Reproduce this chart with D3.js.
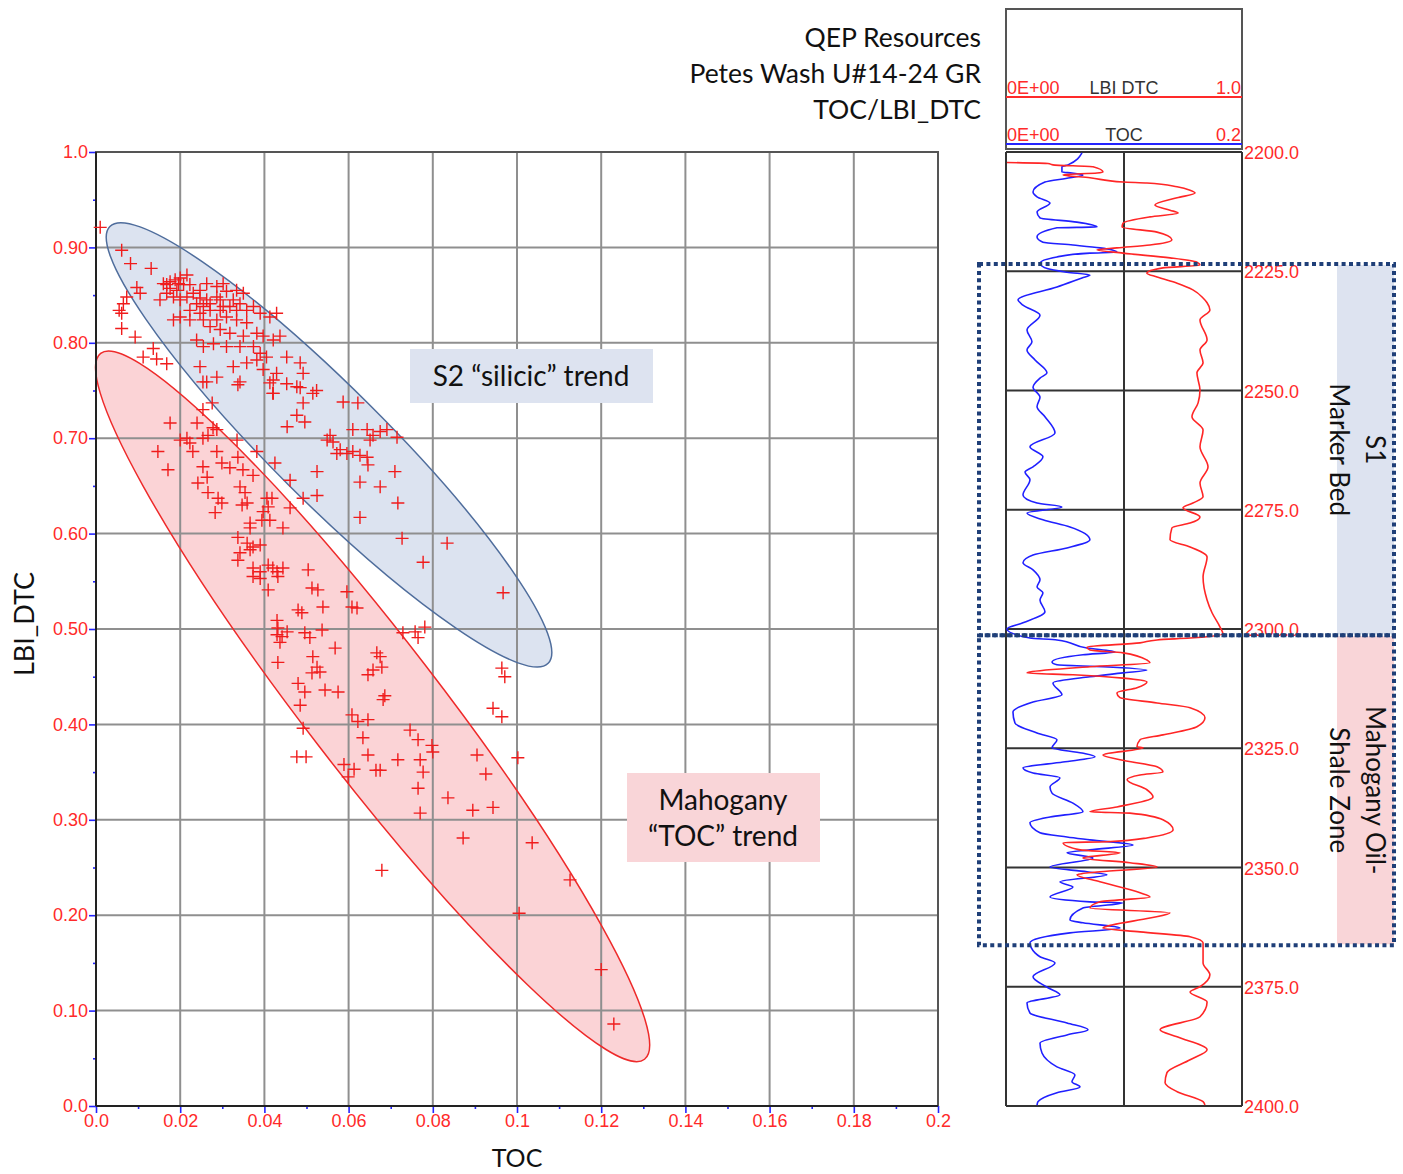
<!DOCTYPE html>
<html>
<head>
<meta charset="UTF-8">
<script src="https://d3js.org/d3.v7.min.js"></script>
<style>
  body { margin: 0; background: #fff; }
  svg text { font-family: 'Liberation Sans Narrow', 'Liberation Sans', Arial, sans-serif; }
  svg text.big { font-family: Lato, 'Open Sans', sans-serif; fill: #111; }
</style>
</head>
<body>
<script>
// ---- crossplot data (TOC, LBI_DTC) ----
var tocTicks = [0, 0.02, 0.04, 0.06, 0.08, 0.1, 0.12, 0.14, 0.16, 0.18, 0.2];
var tocTickLabels = ["0.0", "0.02", "0.04", "0.06", "0.08", "0.1", "0.12", "0.14", "0.16", "0.18", "0.2"];
var lbiTicks = [0, 0.1, 0.2, 0.3, 0.4, 0.5, 0.6, 0.7, 0.8, 0.9, 1.0];
var lbiTickLabels = ["0.0", "0.10", "0.20", "0.30", "0.40", "0.50", "0.60", "0.70", "0.80", "0.90", "1.0"];

// upper cluster (silicic trend)
var silicicPoints = [
  [0.0010,0.921],[0.0061,0.897],[0.0082,0.883],[0.0131,0.878],[0.0097,0.858],[0.0105,0.852],
  [0.0073,0.848],[0.0065,0.841],[0.0055,0.834],[0.0061,0.831],[0.0061,0.815],[0.0093,0.806],
  [0.0136,0.794],[0.0144,0.783],[0.0168,0.778],[0.0112,0.785],
  [0.0160,0.862],[0.0176,0.864],[0.0188,0.866],[0.0200,0.868],[0.0216,0.871],[0.0176,0.857],
  [0.0192,0.855],[0.0208,0.861],[0.0223,0.861],[0.0168,0.852],[0.0152,0.845],[0.0184,0.848],
  [0.0200,0.845],[0.0216,0.848],[0.0231,0.852],[0.0247,0.855],[0.0263,0.862],[0.0287,0.859],
  [0.0302,0.862],[0.0310,0.854],[0.0334,0.855],[0.0350,0.852],[0.0326,0.845],[0.0295,0.845],
  [0.0263,0.845],[0.0239,0.841],[0.0223,0.834],[0.0247,0.831],[0.0271,0.834],[0.0295,0.834],
  [0.0318,0.838],[0.0342,0.841],[0.0358,0.834],[0.0374,0.838],[0.0390,0.831],[0.0413,0.827],
  [0.0429,0.831],[0.0200,0.827],[0.0184,0.824],[0.0223,0.824],[0.0255,0.824],[0.0287,0.824],
  [0.0310,0.827],[0.0334,0.824],[0.0358,0.821],[0.0271,0.817],[0.0295,0.814],[0.0318,0.810],
  [0.0350,0.807],[0.0382,0.810],[0.0397,0.807],[0.0421,0.803],[0.0437,0.807],[0.0239,0.803],
  [0.0255,0.796],[0.0279,0.799],[0.0310,0.796],[0.0342,0.796],[0.0374,0.796],[0.0390,0.789],
  [0.0405,0.785],[0.0382,0.782],[0.0453,0.785],[0.0485,0.779],[0.0492,0.768],[0.0358,0.779],
  [0.0326,0.775],[0.0247,0.775],[0.0397,0.772],[0.0429,0.768],[0.0287,0.764],[0.0263,0.759],
  [0.0342,0.759],[0.0421,0.761],[0.0453,0.757],[0.0477,0.754],[0.0524,0.750],[0.0421,0.747],
  [0.0168,0.861],[0.0196,0.862],[0.0247,0.847],[0.0271,0.841],[0.0287,0.848],[0.0302,0.838],
  [0.0334,0.834],[0.0255,0.838],
  [0.0254,0.759],[0.0337,0.756],[0.0413,0.758],[0.0420,0.747],[0.0485,0.753],[0.0515,0.747],
  [0.0492,0.737],[0.0587,0.738],[0.0622,0.737],[0.0477,0.724],[0.0496,0.717],[0.0454,0.712],
  [0.0556,0.703],[0.0563,0.696],[0.0549,0.698],[0.0610,0.709],[0.0644,0.709],[0.0658,0.703],
  [0.0675,0.707],[0.0691,0.709],[0.0715,0.701],[0.0651,0.698],[0.0580,0.688],[0.0596,0.684],
  [0.0610,0.686],[0.0627,0.682],[0.0644,0.680],[0.0646,0.672],[0.0572,0.684],[0.0525,0.665],
  [0.0525,0.640],[0.0492,0.637],[0.0627,0.654],[0.0675,0.649],[0.0710,0.665],[0.0717,0.632],
  [0.0627,0.617],[0.0727,0.595],[0.0777,0.570],[0.0834,0.590],[0.0461,0.656],[0.0425,0.674],
  [0.0382,0.686],[0.0967,0.538]
];

// lower cluster (TOC trend)
var tocTrendPoints = [
  [0.0176,0.716],[0.0240,0.716],[0.0276,0.737],[0.0254,0.730],[0.0200,0.698],[0.0216,0.700],
  [0.0223,0.695],[0.0254,0.700],[0.0266,0.703],[0.0278,0.711],[0.0287,0.709],[0.0147,0.686],
  [0.0171,0.667],[0.0230,0.686],[0.0287,0.686],[0.0335,0.698],[0.0337,0.680],[0.0254,0.670],
  [0.0299,0.674],[0.0318,0.669],[0.0349,0.667],[0.0373,0.661],[0.0242,0.653],[0.0264,0.659],
  [0.0266,0.643],[0.0290,0.637],[0.0299,0.632],[0.0283,0.622],[0.0342,0.649],[0.0359,0.632],
  [0.0354,0.643],[0.0347,0.630],[0.0406,0.637],[0.0418,0.637],[0.0409,0.628],[0.0397,0.623],
  [0.0394,0.614],[0.0366,0.611],[0.0366,0.606],[0.0413,0.614],[0.0444,0.606],[0.0461,0.627],
  [0.0337,0.596],[0.0359,0.590],[0.0366,0.583],[0.0373,0.586],[0.0390,0.588],[0.0342,0.580],
  [0.0337,0.572],[0.0373,0.564],[0.0390,0.560],[0.0373,0.555],[0.0390,0.553],[0.0409,0.567],
  [0.0420,0.564],[0.0430,0.560],[0.0432,0.555],[0.0444,0.564],[0.0504,0.562],[0.0513,0.543],
  [0.0527,0.541],[0.0539,0.523],[0.0480,0.520],[0.0489,0.517],[0.0409,0.541],[0.0596,0.539],
  [0.0608,0.523],[0.0620,0.522],[0.0430,0.509],[0.0432,0.501],[0.0430,0.494],[0.0442,0.492],
  [0.0454,0.497],[0.0437,0.486],[0.0496,0.496],[0.0508,0.491],[0.0537,0.499],[0.0568,0.480],
  [0.0432,0.465],[0.0515,0.471],[0.0525,0.460],[0.0532,0.455],[0.0513,0.454],[0.0667,0.475],
  [0.0675,0.471],[0.0679,0.460],[0.0658,0.457],[0.0646,0.452],[0.0729,0.496],[0.0758,0.497],
  [0.0781,0.502],[0.0765,0.491],[0.0964,0.459],[0.0971,0.450],[0.0682,0.426],[0.0943,0.417],
  [0.0964,0.408],[0.0746,0.394],[0.0765,0.384],[0.0798,0.378],[0.0800,0.371],[0.0717,0.363],
  [0.0770,0.363],[0.0777,0.350],[0.0765,0.333],[0.0770,0.307],[0.0905,0.368],[0.0926,0.348],
  [0.0836,0.323],[0.0895,0.310],[0.0943,0.313],[0.1002,0.365],[0.0872,0.281],[0.1036,0.276],
  [0.0679,0.247],[0.0675,0.352],[0.0480,0.443],[0.0496,0.434],[0.0485,0.420],[0.0492,0.396],
  [0.0477,0.366],[0.0499,0.366],[0.0544,0.436],[0.0575,0.434],[0.0608,0.410],[0.0622,0.403],
  [0.0646,0.405],[0.0589,0.358],[0.0599,0.345],[0.0613,0.353],[0.0646,0.368],[0.0665,0.352],
  [0.0634,0.386],[0.0686,0.430],[0.1005,0.202],[0.1126,0.237],[0.1200,0.143],[0.1230,0.086]
];

// trend ellipses: major-axis tips in (TOC, LBI_DTC), minor/major ratio
var silicicEllipse = { tipA: [0.0033, 0.922], tipB: [0.1074, 0.464], ratio: 0.184 };
var tocEllipse = { tipA: [0.0011, 0.789], tipB: [0.1303, 0.049], ratio: 0.150 };

// ---- well log data ----
var depthTicks = [2200, 2225, 2250, 2275, 2300, 2325, 2350, 2375, 2400];
var depthTickLabels = ["2200.0", "2225.0", "2250.0", "2275.0", "2300.0", "2325.0", "2350.0", "2375.0", "2400.0"];

var tocLogDepth = [2200.2,2202.7,2203.1,2204.2,2204.4,2204.8,2205.4,2206.3,2208.4,2209.4,2210.7,2212.6,
  2213.8,2214.7,2215.7,2215.9,2217.8,2218.9,2219.5,2220.1,2221.0,2221.2,2222.0,2223.3,2224.5,2225.2,
  2225.8,2226.4,2228.3,2231.0,2232.1,2234.2,2237.3,2239.8,2241.5,2243.6,2246.3,2247.4,2249.3,2251.4,
  2253.4,2255.5,2258.9,2261.8,2263.9,2266.0,2267.1,2268.7,2271.9,2273.6,2274.4,2275.7,2277.1,2278.6,
  2281.3,2283.0,2284.5,2286.1,2287.6,2289.7,2291.2,2292.4,2293.9,2296.4,2298.7,2300.0,2301.9,2302.3,
  2304.0,2304.8,2305.4,2306.9,2307.5,2307.9,2308.6,2309.2,2310.0,2311.3,2313.8,2315.3,2317.4,2319.7,
  2321.8,2323.2,2324.9,2326.0,2326.8,2327.9,2329.1,2330.2,2331.2,2333.1,2334.4,2336.5,2338.3,2339.4,
  2340.6,2342.7,2343.6,2344.2,2345.3,2346.3,2346.9,2348.0,2349.9,2350.9,2351.5,2353.0,2354.1,2356.2,
  2357.2,2357.4,2358.5,2361.0,2361.6,2362.7,2363.7,2365.8,2367.9,2368.7,2370.0,2372.9,2375.2,2376.7,
  2378.4,2380.5,2382.6,2384.0,2385.1,2386.8,2388.9,2391.8,2393.5,2394.9,2396.0,2397.2,2399.1,2399.8];
var tocLogValues = [0.0644,0.0525,0.0474,0.0474,0.0559,0.0652,0.0542,0.0330,0.0229,0.0263,0.0373,0.0263,
  0.0288,0.0601,0.0771,0.0432,0.0263,0.0313,0.0567,0.0796,0.0940,0.0711,0.0432,0.0288,0.0356,0.0517,
  0.0711,0.0644,0.0432,0.0102,0.0144,0.0288,0.0178,0.0220,0.0178,0.0246,0.0347,0.0288,0.0229,0.0288,
  0.0263,0.0330,0.0415,0.0203,0.0313,0.0229,0.0161,0.0203,0.0144,0.0263,0.0474,0.0178,0.0313,0.0542,
  0.0711,0.0517,0.0229,0.0144,0.0229,0.0288,0.0263,0.0313,0.0288,0.0330,0.0144,0.0008,0.0203,0.0432,
  0.0686,0.0923,0.0652,0.0390,0.0432,0.0822,0.1194,0.0991,0.0711,0.0398,0.0474,0.0229,0.0059,0.0076,
  0.0263,0.0432,0.0390,0.0644,0.0754,0.0483,0.0144,0.0229,0.0457,0.0373,0.0390,0.0567,0.0652,0.0373,
  0.0203,0.0288,0.0517,0.0711,0.1076,0.0711,0.0517,0.0737,0.0373,0.0686,0.0855,0.0457,0.0567,0.0373,
  0.0711,0.0991,0.0652,0.0542,0.0652,0.0966,0.0542,0.0203,0.0246,0.0288,0.0415,0.0229,0.0356,0.0457,
  0.0178,0.0203,0.0517,0.0695,0.0517,0.0288,0.0305,0.0432,0.0584,0.0559,0.0627,0.0432,0.0271,0.0263];

var lbiLogDepth = [2202.2,2202.4,2202.7,2203.1,2204.2,2204.4,2204.8,2205.4,2206.3,2206.5,2207.3,2208.0,
  2208.6,2209.6,2211.1,2212.2,2212.8,2213.6,2214.9,2215.7,2216.8,2218.4,2219.5,2220.1,2220.5,2221.2,
  2222.2,2223.1,2223.7,2224.3,2225.4,2226.2,2227.5,2228.9,2230.6,2231.6,2233.1,2235.2,2239.4,2241.5,
  2244.2,2246.3,2249.9,2252.6,2255.5,2258.3,2261.8,2266.0,2269.4,2272.3,2273.6,2274.6,2276.5,2277.8,
  2278.8,2281.3,2282.8,2284.9,2289.1,2293.9,2296.6,2299.6,2301.0,2301.9,2302.3,2302.9,2303.8,2304.4,
  2305.0,2306.5,2307.1,2307.9,2309.0,2309.2,2309.6,2310.3,2311.1,2312.3,2313.4,2314.4,2315.5,2316.5,
  2318.6,2320.5,2322.2,2323.2,2324.7,2324.9,2326.4,2327.4,2328.9,2330.0,2330.6,2331.6,2333.7,2335.2,
  2337.3,2338.3,2338.6,2340.0,2342.1,2343.8,2344.6,2344.8,2346.3,2346.9,2348.0,2349.0,2349.9,2350.9,
  2351.5,2353.0,2355.3,2356.2,2357.2,2358.5,2359.5,2360.6,2362.0,2362.7,2363.5,2364.5,2365.8,2367.9,
  2370.0,2372.5,2375.0,2376.1,2378.2,2381.3,2384.0,2385.5,2388.2,2390.3,2393.0,2395.1,2397.0,2399.1,2399.8];
var lbiLogValues = [0.004,0.178,0.199,0.369,0.411,0.386,0.242,0.356,0.496,0.597,0.725,0.780,
  0.801,0.725,0.631,0.695,0.729,0.610,0.496,0.492,0.640,0.703,0.610,0.470,0.386,0.496,
  0.695,0.809,0.822,0.665,0.597,0.640,0.725,0.792,0.835,0.852,0.864,0.822,0.852,0.822,
  0.835,0.809,0.822,0.814,0.788,0.835,0.822,0.856,0.822,0.835,0.792,0.750,0.822,0.780,
  0.703,0.695,0.780,0.852,0.835,0.852,0.873,0.907,0.919,0.780,0.640,0.568,0.343,0.356,
  0.496,0.597,0.610,0.356,0.102,0.089,0.284,0.496,0.597,0.555,0.470,0.483,0.640,0.780,
  0.843,0.809,0.665,0.568,0.555,0.581,0.411,0.483,0.640,0.665,0.568,0.513,0.597,0.623,
  0.470,0.356,0.525,0.665,0.708,0.597,0.428,0.242,0.314,0.483,0.326,0.525,0.640,0.398,
  0.301,0.398,0.568,0.610,0.398,0.356,0.695,0.610,0.453,0.411,0.568,0.780,0.835,0.835,
  0.835,0.864,0.822,0.780,0.852,0.822,0.653,0.725,0.852,0.780,0.682,0.674,0.725,0.835,0.843];

var titleLines = ["QEP Resources", "Petes Wash U#14-24 GR", "TOC/LBI_DTC"];

// ---------------------------------------------------------------
var svg = d3.select("body").append("svg")
  .attr("width", 1403)
  .attr("height", 1174);

var plot = {left: 96, right: 938, top: 152, bottom: 1106};
var x = d3.scaleLinear().domain([0, 0.2]).range([plot.left, plot.right]);
var y = d3.scaleLinear().domain([0, 1]).range([plot.bottom, plot.top]);

function ellipseGeom(e) {
  var x1 = x(e.tipA[0]), y1 = y(e.tipA[1]), x2 = x(e.tipB[0]), y2 = y(e.tipB[1]);
  var cx = (x1 + x2) / 2, cy = (y1 + y2) / 2;
  var a = Math.hypot(x2 - x1, y2 - y1) / 2;
  var ang = Math.atan2(y2 - y1, x2 - x1) * 180 / Math.PI;
  return {cx: cx, cy: cy, rx: a, ry: a * e.ratio, rot: "rotate(" + ang + "," + cx + "," + cy + ")"};
}
var ellipses = [
  {g: ellipseGeom(silicicEllipse), fill: "#dce3f0", stroke: "#4f6d9c"},
  {g: ellipseGeom(tocEllipse), fill: "#fbd3d6", stroke: "#ee2a2a"}
];

// ellipse fills
svg.append("g").selectAll("ellipse").data(ellipses).join("ellipse")
  .attr("cx", function(d) { return d.g.cx; })
  .attr("cy", function(d) { return d.g.cy; })
  .attr("rx", function(d) { return d.g.rx; })
  .attr("ry", function(d) { return d.g.ry; })
  .attr("transform", function(d) { return d.g.rot; })
  .attr("fill", function(d) { return d.fill; });

// grid
var grid = svg.append("g").attr("stroke", "#8f8f8f").attr("stroke-width", 2);
grid.selectAll("line.v").data(tocTicks.slice(1, -1)).join("line")
  .attr("x1", x).attr("x2", x).attr("y1", plot.top).attr("y2", plot.bottom);
grid.selectAll("line.h").data(lbiTicks.slice(1, -1)).join("line").attr("class", "h")
  .attr("y1", y).attr("y2", y).attr("x1", plot.left).attr("x2", plot.right);

// ellipse outlines
svg.append("g").selectAll("ellipse").data(ellipses).join("ellipse")
  .attr("cx", function(d) { return d.g.cx; })
  .attr("cy", function(d) { return d.g.cy; })
  .attr("rx", function(d) { return d.g.rx; })
  .attr("ry", function(d) { return d.g.ry; })
  .attr("transform", function(d) { return d.g.rot; })
  .attr("fill", "none")
  .attr("stroke", function(d) { return d.stroke; })
  .attr("stroke-width", 1.5);

// frame
svg.append("rect")
  .attr("x", plot.left).attr("y", plot.top)
  .attr("width", plot.right - plot.left).attr("height", plot.bottom - plot.top)
  .attr("fill", "none").attr("stroke", "#555").attr("stroke-width", 2);

// axes
function styleAxis(g) {
  g.select(".domain").remove();
  g.selectAll(".tick line").attr("stroke", "#2424ff").attr("stroke-width", 1.6);
  g.selectAll(".tick text").attr("fill", "#ff2a2a").style("font-size", "18px")
    .style("font-family", "'Liberation Sans Narrow', 'Liberation Sans', Arial, sans-serif");
}
svg.append("g").attr("transform", "translate(" + plot.left + ",0)")
  .call(d3.axisLeft(y).tickValues(lbiTicks).tickSize(7).tickPadding(1)
    .tickFormat(function(d, i) { return lbiTickLabels[i]; }))
  .call(styleAxis);
svg.append("g").attr("transform", "translate(" + plot.left + ",0)")
  .call(d3.axisLeft(y).tickValues(d3.pairs(lbiTicks, function(a, b) { return (a + b) / 2; }))
    .tickSize(3).tickFormat(""))
  .call(styleAxis);
svg.append("g").attr("transform", "translate(0," + plot.bottom + ")")
  .call(d3.axisBottom(x).tickValues(tocTicks).tickSize(7).tickPadding(1)
    .tickFormat(function(d, i) { return tocTickLabels[i]; }))
  .call(styleAxis);
svg.append("g").attr("transform", "translate(0," + plot.bottom + ")")
  .call(d3.axisBottom(x).tickValues(d3.pairs(tocTicks, function(a, b) { return (a + b) / 2; }))
    .tickSize(3).tickFormat(""))
  .call(styleAxis);

svg.append("line").attr("x1", plot.left).attr("x2", plot.left).attr("y1", plot.top).attr("y2", plot.bottom)
  .attr("stroke", "#222").attr("stroke-width", 2);
svg.append("line").attr("x1", plot.left).attr("x2", plot.right).attr("y1", plot.bottom).attr("y2", plot.bottom)
  .attr("stroke", "#222").attr("stroke-width", 2);

// points
svg.append("g")
  .attr("stroke", "#f01c1c").attr("stroke-width", 1.4).attr("fill", "none")
  .selectAll("path").data(silicicPoints.concat(tocTrendPoints)).join("path")
  .attr("transform", function(d) { return "translate(" + x(d[0]) + "," + y(d[1]) + ")"; })
  .attr("d", "M-6.5,0H6.5M0,-6.5V6.5");

// axis titles
svg.append("text").attr("class", "big")
  .attr("transform", "translate(34,624) rotate(-90)")
  .attr("text-anchor", "middle").style("font-size", "27px").text("LBI_DTC");
svg.append("text").attr("class", "big")
  .attr("x", 517).attr("y", 1167)
  .attr("text-anchor", "middle").style("font-size", "25px").text("TOC");

// trend labels
svg.append("rect").attr("x", 410).attr("y", 349).attr("width", 243).attr("height", 54).attr("fill", "#dde3f0");
svg.append("text").attr("class", "big").attr("x", 531).attr("y", 386)
  .attr("text-anchor", "middle").style("font-size", "28px").text("S2 \u201Csilicic\u201D trend");
svg.append("rect").attr("x", 627).attr("y", 773).attr("width", 193).attr("height", 89).attr("fill", "#f9d5d8");
svg.append("text").attr("class", "big").attr("x", 723).attr("y", 810)
  .attr("text-anchor", "middle").style("font-size", "28px").text("Mahogany");
svg.append("text").attr("class", "big").attr("x", 723).attr("y", 846)
  .attr("text-anchor", "middle").style("font-size", "28px").text("\u201CTOC\u201D trend");

// title
svg.append("g").selectAll("text").data(titleLines).join("text")
  .attr("class", "big")
  .attr("x", 981).attr("y", function(d, i) { return 47 + i * 36; })
  .attr("text-anchor", "end").style("font-size", "26.5px")
  .text(function(d) { return d; });

// ---- log track ----
var track = {left: 1006, right: 1242, top: 152, bottom: 1106};
var depth = d3.scaleLinear().domain([2200, 2400]).range([track.top, track.bottom]);
var tocX = d3.scaleLinear().domain([0, 0.2]).range([track.left, track.right]);
var lbiX = d3.scaleLinear().domain([0, 1]).range([track.left, track.right]);

// zone boxes
var zones = [
  {top: 2223.5, bottom: 2301.3, lines: ["S1", "Marker Bed"], band: "#dde3f0"},
  {top: 2301.3, bottom: 2366.3, lines: ["Mahogany Oil-", "Shale Zone"], band: "#f9d5d8"}
];

// zone bands
svg.append("g").selectAll("rect").data(zones).join("rect")
  .attr("x", 1337).attr("y", function(d) { return depth(d.top) + 1; })
  .attr("width", 57).attr("height", function(d) { return depth(d.bottom) - depth(d.top) - 2; })
  .attr("fill", function(d) { return d.band; });

// header
svg.append("rect").attr("x", track.left).attr("y", 9).attr("width", track.right - track.left).attr("height", 140)
  .attr("fill", "none").attr("stroke", "#555").attr("stroke-width", 2);
var headers = [
  {name: "LBI DTC", lo: "0E+00", hi: "1.0", color: "#ff2a2a", y: 97},
  {name: "TOC", lo: "0E+00", hi: "0.2", color: "#2424ff", y: 144}
];
var hg = svg.append("g").selectAll("g").data(headers).join("g");
hg.append("line").attr("x1", track.left).attr("x2", track.right)
  .attr("y1", function(d) { return d.y; }).attr("y2", function(d) { return d.y; })
  .attr("stroke", function(d) { return d.color; }).attr("stroke-width", 2);
hg.append("text").attr("x", track.left + 1).attr("y", function(d) { return d.y - 3; })
  .attr("fill", "#ff2a2a").style("font-size", "18px").text(function(d) { return d.lo; });
hg.append("text").attr("x", track.right - 1).attr("y", function(d) { return d.y - 3; })
  .attr("text-anchor", "end").attr("fill", "#ff2a2a").style("font-size", "18px").text(function(d) { return d.hi; });
hg.append("text").attr("x", (track.left + track.right) / 2).attr("y", function(d) { return d.y - 3; })
  .attr("text-anchor", "middle").attr("fill", "#333").style("font-size", "18px").text(function(d) { return d.name; });

// track grid
var tg = svg.append("g").attr("stroke", "#333").attr("stroke-width", 2);
tg.selectAll("line.d").data(depthTicks).join("line")
  .attr("x1", track.left).attr("x2", track.right)
  .attr("y1", depth).attr("y2", depth);
tg.append("line").attr("x1", lbiX(0.5)).attr("x2", lbiX(0.5)).attr("y1", track.top).attr("y2", track.bottom);
tg.append("line").attr("x1", track.left).attr("x2", track.left).attr("y1", track.top).attr("y2", track.bottom);
tg.append("line").attr("x1", track.right).attr("x2", track.right).attr("y1", track.top).attr("y2", track.bottom);

// curves
svg.append("path")
  .datum(d3.zip(tocLogDepth, tocLogValues))
  .attr("fill", "none").attr("stroke", "#2020ff").attr("stroke-width", 1.6)
  .attr("d", d3.line().curve(d3.curveMonotoneY)
    .x(function(d) { return tocX(d[1]); }).y(function(d) { return depth(d[0]); }));
svg.append("path")
  .datum(d3.zip(lbiLogDepth, lbiLogValues))
  .attr("fill", "none").attr("stroke", "#ff2626").attr("stroke-width", 1.6)
  .attr("d", d3.line().curve(d3.curveMonotoneY)
    .x(function(d) { return lbiX(d[1]); }).y(function(d) { return depth(d[0]); }));

// depth labels
svg.append("g").selectAll("text").data(depthTicks).join("text")
  .attr("x", track.right + 2).attr("y", depth).attr("dy", "0.4em")
  .attr("fill", "#ff2a2a").style("font-size", "18px")
  .text(function(d, i) { return depthTickLabels[i]; });

// dotted outlines
svg.append("g").selectAll("rect").data(zones).join("rect")
  .attr("x", 979).attr("y", function(d) { return depth(d.top); })
  .attr("width", 415).attr("height", function(d) { return depth(d.bottom) - depth(d.top); })
  .attr("fill", "none").attr("stroke", "#1f3f78").attr("stroke-width", 4)
  .attr("stroke-dasharray", "4,3.4");

zones.forEach(function(z) {
  var cy = (depth(z.top) + depth(z.bottom)) / 2;
  z.lines.forEach(function(t, i) {
    svg.append("text").attr("class", "big")
      .attr("transform", "translate(" + (1376 - i * 36) + "," + cy + ") rotate(90)")
      .attr("text-anchor", "middle").attr("dominant-baseline", "central")
      .style("font-size", "26px").text(t);
  });
});
</script>
</body>
</html>
